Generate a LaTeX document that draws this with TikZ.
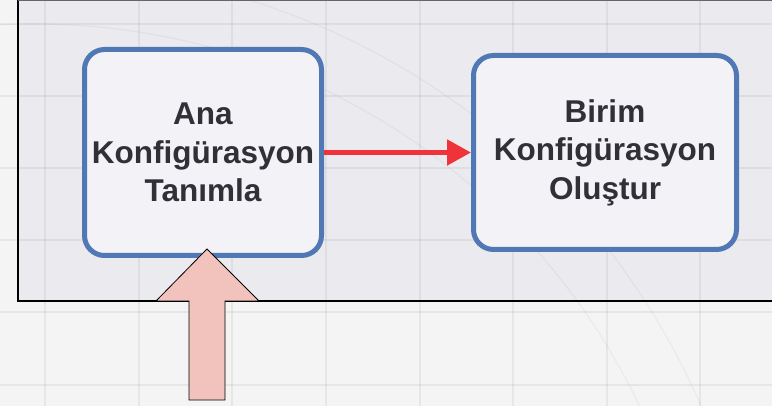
\documentclass[tikz,border=0pt]{standalone}
\usepackage{fontspec}
\setmainfont{Liberation Sans}
\usepackage{tikz}
\usetikzlibrary{arrows.meta}

\definecolor{pagebg}{HTML}{F4F4F4}
\definecolor{framebg}{HTML}{EBEAEF}
\definecolor{boxblue}{HTML}{5078B4}
\definecolor{boxfill}{HTML}{F3F2F7}
\definecolor{flowred}{HTML}{F0323A}
\definecolor{pinkarrow}{HTML}{F2C3BD}
\definecolor{textdark}{HTML}{303036}

\begin{document}
\begin{tikzpicture}[x=1pt, y=-1pt,
	stepbox/.style = {draw = boxblue, line width = 5pt, fill = boxfill, rounded corners = 20pt,
		minimum width = 237pt, minimum height = 206pt, align = center, text = textdark,
		font = \bfseries\fontsize{31.5}{38.5}\selectfont, inner sep = 0pt},
	flow/.style = {draw = flowred, line width = 5pt, -{Triangle[length=24pt, width=25pt]}},
	gridline/.style = {black, opacity = 0.055, line width = 1.2pt}]

\useasboundingbox (0,0) rectangle (772,406);
\fill[pagebg] (0,0) rectangle (772,406);
\fill[framebg] (18,0) rectangle (780,301);

% faint grid and arcs behind
\foreach \x in {45,139,232,326,420,513,607,700}
	\draw[gridline] (\x,0) -- (\x,406);
\foreach \y in {24,96,168,240,312,385}
	\draw[gridline] (0,\y) -- (772,\y);
\begin{scope}
\clip (0,0) rectangle (772,406);
\draw[gridline, opacity = 0.04] (35,693) circle (669);
\draw[gridline, opacity = 0.04] (35,693) circle (725);
\end{scope}

\draw[black, line width = 1.3pt] (18,0) -- (18,301) -- (780,301);
\draw[black!60, line width = 1pt] (18,0.5) -- (780,0.5);

\node[stepbox] (ana) at (203,152.5) {Ana\\Konfigürasyon\\Tanımla};
\node[stepbox, minimum width = 263pt, minimum height = 194pt] (birim) at (605,152.5) {Birim\\Konfigürasyon\\Oluştur};

\draw[flow] (ana.east) -- (birim.west);

\coordinate (tip) at (207,249);
\draw[fill = pinkarrow, line width = 0.8pt] (tip) -- (259,301) -- (225,301) -- (225,400)
	-- (189,400) -- (189,301) -- (156,301) -- cycle;
\end{tikzpicture}
\end{document}
